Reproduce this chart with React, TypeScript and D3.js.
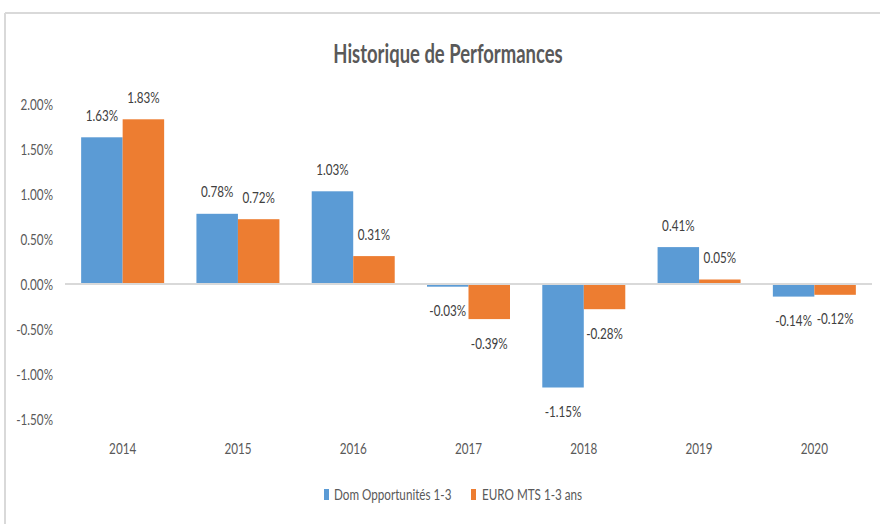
import React from "react";
import * as d3 from "d3";

const categories = ["2014", "2015", "2016", "2017", "2018", "2019", "2020"];
const seriesNames = ["Dom Opportunités 1-3", "EURO MTS 1-3 ans"];
const domValues = [1.63, 0.78, 1.03, -0.03, -1.15, 0.41, -0.14];
const euroValues = [1.83, 0.72, 0.31, -0.39, -0.28, 0.05, -0.12];
const yTicks = [2.0, 1.5, 1.0, 0.5, 0.0, -0.5, -1.0, -1.5];
const colors = ["#5B9BD5", "#ED7D31"];
const title = "Historique de Performances";

const W = 880;
const H = 524;
const FONT = "Lato, 'Open Sans', sans-serif";
const SX = 0.73;

const locale = d3.formatLocale({
  decimal: ".",
  thousands: ",",
  grouping: [3],
  currency: ["", ""],
  minus: "-",
});
const f2 = locale.format(".2f");

function T({ x, y, anchor = "middle", size = 16, weight = "normal", fill = "#595959", children }: any) {
  return (
    <text
      transform={`translate(${x},${y}) scale(${SX},1)`}
      textAnchor={anchor}
      dy="0.35em"
      fontSize={size}
      fontWeight={weight}
      fill={fill}
    >
      {children}
    </text>
  );
}

export default function App() {
  const x = d3.scaleBand<string>().domain(categories).range([65, 872]).paddingInner(0).paddingOuter(0);
  const y = d3.scaleLinear().domain([-1.5, 2.0]).range([419, 104]);
  const barW = 41.5;
  const series = [domValues, euroValues];
  const fmt = (v: number) => f2(v) + "%";

  return (
    <svg width={W} height={H} style={{ position: "absolute", left: 0, top: 0, background: "#fff" }} fontFamily={FONT}>
      <rect x={0} y={0} width={W} height={H} fill="#fff" />
      <line x1={5} x2={W} y1={13} y2={13} stroke="#d9d9d9" strokeWidth={2} />
      <line x1={5} x2={5} y1={13} y2={H} stroke="#d9d9d9" strokeWidth={2} />

      <text transform={`translate(448,63) scale(0.71,1)`} textAnchor="middle" fontSize={26} fontWeight="bold" fill="#595959">
        {title}
      </text>

      {yTicks.map((t) => (
        <T key={t} x={53} y={y(t)} anchor="end">
          {fmt(t)}
        </T>
      ))}

      {series.map((vals, si) =>
        vals.map((v, i) => {
          const cx = (x(categories[i]) as number) + x.bandwidth() / 2;
          const bx = si === 0 ? cx - barW : cx;
          const top = Math.min(y(v), y(0));
          const h = Math.abs(y(v) - y(0));
          const ly = v >= 0 ? y(v) - 22 : y(v) + 24;
          return (
            <g key={`${si}-${i}`}>
              <rect x={bx} y={top} width={barW} height={h} fill={colors[si]} />
              <T x={bx + barW / 2} y={ly} fill="#404040">
                {fmt(v)}
              </T>
            </g>
          );
        })
      )}

      <line x1={65} x2={872} y1={y(0)} y2={y(0)} stroke="#d9d9d9" strokeWidth={2} />

      {categories.map((c) => (
        <T key={c} x={(x(c) as number) + x.bandwidth() / 2} y={448.5}>
          {c}
        </T>
      ))}

      <g>
        <rect x={324} y={489} width={5} height={11} fill={colors[0]} />
        <T x={334} y={494.5} anchor="start">{seriesNames[0]}</T>
        <rect x={471} y={489} width={5} height={11} fill={colors[1]} />
        <T x={482} y={494.5} anchor="start">{seriesNames[1]}</T>
      </g>
    </svg>
  );
}
